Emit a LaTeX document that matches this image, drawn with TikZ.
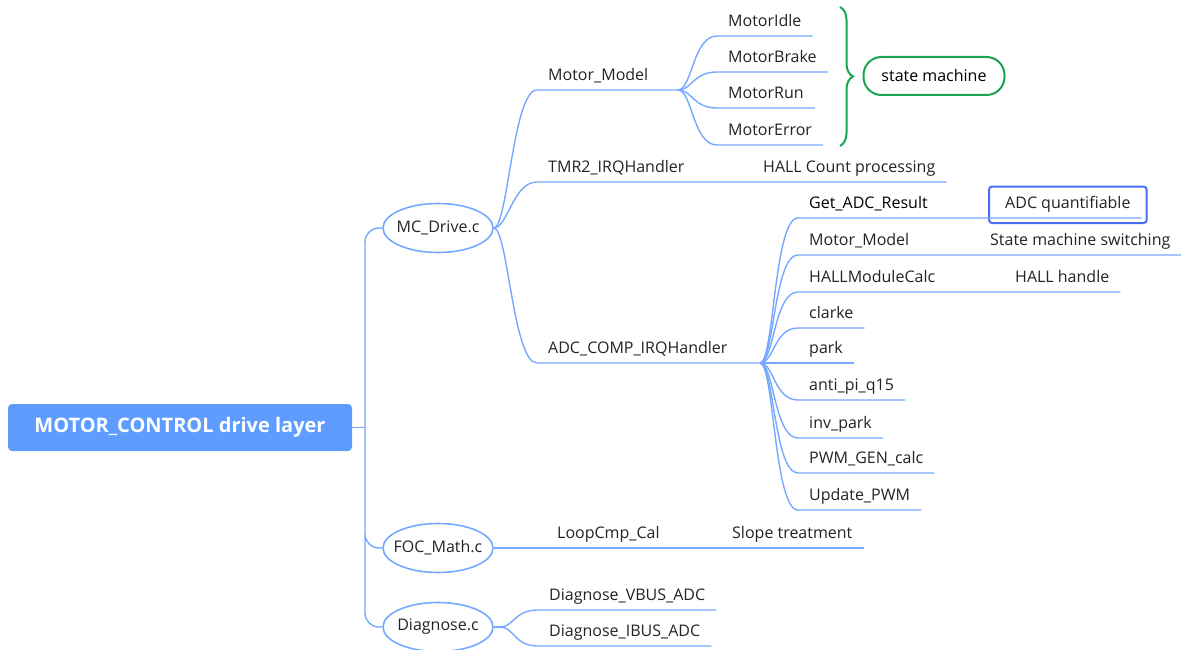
\documentclass[tikz,border=0pt]{standalone}
\usepackage{fontspec}
\setmainfont{Open Sans}
\usepackage{tikz}
\usetikzlibrary{shapes.geometric, fit, decorations.pathreplacing}
\definecolor{linec}{RGB}{118,168,255}
\definecolor{rootc}{RGB}{94,157,255}
\definecolor{txtc}{RGB}{35,35,35}
\definecolor{greenc}{RGB}{27,164,79}
\definecolor{boxc}{RGB}{76,108,247}

\begin{document}
\begin{tikzpicture}[x=1pt, y=-1pt, font=\fontsize{16}{19}\selectfont, text=txtc,
                branch/.style={draw=linec, line width=1.4pt},
                fan/.style={out=0, in=180, out distance=14pt, in distance=24pt},
                file/.style={ellipse, draw=linec, line width=1.6pt, minimum width=110pt, minimum height=49pt, inner xsep=-12pt, inner ysep=0pt},
                leaf/.style={anchor=south west, inner xsep=11pt, inner ysep=5pt, text height=12pt, text depth=4pt}]
                \useasboundingbox (0,0) rectangle (1181,650);

                \node[fill=rootc, rounded corners=4pt, minimum width=344pt, minimum height=47pt, text=white,
                    font=\fontsize{20}{24}\selectfont\bfseries] (root) at (180,427.5) {MOTOR\_CONTROL drive layer};
                \node[file] (md) at (438,228) {MC\_Drive.c};
                \node[file] (foc) at (438,548) {FOC\_Math.c};
                \node[file] (dg) at (438,627) {Diagnose.c};
                \coordinate (tr) at (365,427.5);
                \coordinate (mmf) at (678,90);
                \coordinate (adcf) at (760,363);
                \coordinate (dgf) at (500,627);

                \node[leaf] (mm) at (537,90) {Motor\_Model};
                \node[leaf] (idle) at (717,36) {MotorIdle};
                \node[leaf] (brake) at (717,72) {MotorBrake};
                \node[leaf] (run) at (717,108) {MotorRun};
                \node[leaf] (err) at (717,145) {MotorError};
                \node[leaf] (tmr) at (537,182) {TMR2\_IRQHandler};
                \node[leaf] (hallc) at (752,182) {HALL Count processing};
                \node[leaf] (adc) at (537,363) {ADC\_COMP\_IRQHandler};
                \node[leaf, text=black] (get) at (798,218) {Get\_ADC\_Result};
                \node[leaf] (quant) at (994,218) {ADC quantifiable};
                \node[leaf] (mm2) at (798,255) {Motor\_Model};
                \node[leaf] (smsw) at (979,255) {State machine switching};
                \node[leaf] (hmc) at (798,292) {HALLModuleCalc};
                \node[leaf] (hh) at (1004,292) {HALL handle};
                \node[leaf] (clarke) at (798,328) {clarke};
                \node[leaf] (park) at (798,363) {park};
                \node[leaf] (anti) at (798,400) {anti\_pi\_q15};
                \node[leaf] (inv) at (798,438) {inv\_park};
                \node[leaf] (pwm) at (798,473) {PWM\_GEN\_calc};
                \node[leaf] (upd) at (798,510) {Update\_PWM};
                \node[leaf] (loop) at (546,548) {LoopCmp\_Cal};
                \node[leaf] (slope) at (721,548) {Slope treatment};
                \node[leaf] (vbus) at (538,610) {Diagnose\_VBUS\_ADC};
                \node[leaf] (ibus) at (538,646) {Diagnose\_IBUS\_ADC};

                \node[draw=boxc, line width=2pt, rounded corners=3pt, inner xsep=5pt, inner ysep=5pt, fit=(quant)] (qbox) {};
                \coordinate (br1) at (840,7);
                \coordinate (br2) at (840,146);
                \draw[greenc, line width=2pt, decorate, decoration={brace, amplitude=13pt}] (br1) -- (br2);
                \node[draw=greenc, line width=2pt, rounded corners=18pt, minimum width=141pt, minimum height=38pt,
                    text=black] (sm) at (934,76) {state machine};

                \draw[branch] (root.east) -- (tr);
                \draw[branch, rounded corners=14pt] (tr) |- (md.west) (tr) |- (foc.west) (tr) |- (dg.west);
                \draw[branch] (md.east) to[fan] (mm.south west) -- (mmf);
                \draw[branch] (md.east) to[fan] (tmr.south west) -- (hallc.south east);
                \draw[branch] (md.east) to[fan] (adc.south west) -- (adcf);
                \foreach \n in {idle, brake, run, err}
                    \draw[branch] (mmf) to[fan] (\n.south west) -- (\n.south east);
                \draw[branch] (adcf) to[fan] (get.south west) -- (quant.south east);
                \draw[branch] (adcf) to[fan] (mm2.south west) -- (smsw.south east);
                \draw[branch] (adcf) to[fan] (hmc.south west) -- (hh.south east);
                \foreach \n in {clarke, park, anti, inv, pwm, upd}
                    \draw[branch] (adcf) to[fan] (\n.south west) -- (\n.south east);
                \draw[branch] (foc.east) -- (loop.south west) -- (slope.south east);
                \draw[branch] (dg.east) -- (dgf);
                \draw[branch] (dgf) to[fan] (vbus.south west) -- (vbus.south east);
                \draw[branch] (dgf) to[fan] (ibus.south west) -- (ibus.south east);
            \end{tikzpicture}
\end{document}
